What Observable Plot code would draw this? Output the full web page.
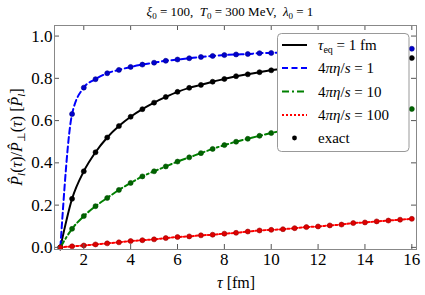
<!DOCTYPE html>
<html>
<head>
<meta charset="utf-8">
<script src="https://cdn.jsdelivr.net/npm/d3@7"></script>
<script src="https://cdn.jsdelivr.net/npm/@observablehq/plot@0.6"></script>
<style>
  html, body { margin: 0; padding: 0; background: #fff; }
  svg { display: block; }
  svg text { font-family: "Liberation Serif", "Times New Roman", serif !important; }
</style>
</head>
<body>
<div id="chart"></div>
<script>
const tau = [1, 1.5, 2, 2.5, 3, 3.5, 4, 4.5, 5, 5.5, 6, 6.5, 7, 7.5, 8, 8.5, 9, 9.5, 10,
             10.5, 11, 11.5, 12, 12.5, 13, 13.5, 14, 14.5, 15, 15.5, 16];
const tauEq1 = [0, 0.230, 0.360, 0.450, 0.520, 0.574, 0.618, 0.654, 0.685, 0.712, 0.736, 0.755, 0.769, 0.784, 0.797, 0.810, 0.819, 0.829, 0.838,
                0.845, 0.852, 0.858, 0.864, 0.869, 0.874, 0.879, 0.883, 0.887, 0.890, 0.893, 0.896];
const eta1 = [0, 0.631, 0.756, 0.796, 0.824, 0.840, 0.854, 0.865, 0.874, 0.883, 0.889, 0.895, 0.901, 0.906, 0.910, 0.913, 0.915, 0.919, 0.920,
              0.922, 0.924, 0.926, 0.928, 0.930, 0.931, 0.933, 0.934, 0.936, 0.937, 0.939, 0.940];
const eta10 = [0, 0.088, 0.148, 0.195, 0.234, 0.272, 0.305, 0.336, 0.360, 0.383, 0.406, 0.426, 0.446, 0.466, 0.484, 0.500, 0.514, 0.528, 0.541,
               0.553, 0.564, 0.575, 0.585, 0.595, 0.605, 0.614, 0.623, 0.631, 0.639, 0.647, 0.655];
const eta100 = [0, 0.005, 0.009, 0.014, 0.019, 0.024, 0.030, 0.034, 0.038, 0.044, 0.049, 0.052, 0.057, 0.060, 0.065, 0.069, 0.075, 0.080, 0.083,
                0.086, 0.091, 0.096, 0.099, 0.104, 0.108, 0.115, 0.118, 0.123, 0.127, 0.131, 0.135];
const xTicks = [2, 4, 6, 8, 10, 12, 14, 16];
const yTicks = [0, 0.2, 0.4, 0.6, 0.8, 1.0];

const seriesDefs = [
  {key: "tauEq", values: tauEq1, stroke: "#000000", dotFill: "#000000", dotStroke: "#000000", dash: null},
  {key: "eta1", values: eta1, stroke: "#0000ff", dotFill: "#0000cc", dotStroke: "#00008b", dash: "6,3.5"},
  {key: "eta10", values: eta10, stroke: "#008000", dotFill: "#006400", dotStroke: "#004d00", dash: "7,3,2,3"},
  {key: "eta100", values: eta100, stroke: "#ff0000", dotFill: "#dd0000", dotStroke: "#990000", dash: "2,2"}
];

const W = 425, H = 295, mL = 54, mR = 9, mT = 25, mB = 46;
const plotW = W - mL - mR, plotH = H - mT - mB, tk = 5;

const marks = [];
for (const s of seriesDefs) {
  const data = tau.map((t, i) => ({t, v: s.values[i]}));
  marks.push(Plot.line(data, {x: "t", y: "v", stroke: s.stroke, strokeWidth: 2, strokeDasharray: s.dash, curve: "monotone-x"}));
  marks.push(Plot.dot(data, {x: "t", y: "v", r: 2.5, fill: s.dotFill, stroke: s.dotStroke, strokeWidth: 0.6}));
}

const svg = Plot.plot({
  width: W,
  height: H,
  marginLeft: mL,
  marginRight: mR,
  marginTop: mT,
  marginBottom: mB,
  style: {color: "#000", background: "#fff"},
  x: {domain: [0.75, 16.2], axis: null},
  y: {domain: [-0.01, 1.05], axis: null},
  marks: [
    ...marks,
    Plot.tickX(xTicks, {x: d => d, insetTop: plotH - tk, stroke: "#555"}),
    Plot.tickX(xTicks, {x: d => d, insetBottom: plotH - tk, stroke: "#555"}),
    Plot.tickY(yTicks, {y: d => d, insetRight: plotW - tk, stroke: "#555"}),
    Plot.tickY(yTicks, {y: d => d, insetLeft: plotW - tk, stroke: "#555"}),
    Plot.text(xTicks, {x: d => d, text: d => String(d), frameAnchor: "bottom", lineAnchor: "top", dy: 3, fontSize: 17, fill: "#000"}),
    Plot.text(yTicks, {y: d => d, text: d => d.toFixed(1), frameAnchor: "left", textAnchor: "end", dx: -2, fontSize: 17, fill: "#000"}),
    Plot.frame({stroke: "#888"})
  ]
});

document.getElementById("chart").appendChild(svg);

const S = d3.select(svg);

// Title
const title = S.append("text").attr("x", 230).attr("y", 16).attr("text-anchor", "middle")
  .attr("font-size", 13).attr("fill", "#000");
title.append("tspan").attr("font-style", "italic").text("ξ");
title.append("tspan").attr("font-size", 9).attr("dy", 2.5).text("0");
title.append("tspan").attr("dy", -2.5).text(" = 100,  ");
title.append("tspan").attr("font-style", "italic").text("T");
title.append("tspan").attr("font-size", 9).attr("dy", 2.5).text("0");
title.append("tspan").attr("dy", -2.5).text(" = 300 MeV,  ");
title.append("tspan").attr("font-style", "italic").text("λ");
title.append("tspan").attr("font-size", 9).attr("dy", 2.5).text("0");
title.append("tspan").attr("dy", -2.5).text(" = 1");

// X label
const xl = S.append("text").attr("x", 236).attr("y", 288).attr("text-anchor", "middle")
  .attr("font-size", 16).attr("fill", "#000");
xl.append("tspan").attr("font-style", "italic").text("τ");
xl.append("tspan").text(" [fm]");

// Y label
const yl = S.append("text").attr("transform", "translate(22,137) rotate(-90)").attr("text-anchor", "middle")
  .attr("font-size", 16).attr("fill", "#000");
yl.append("tspan").attr("font-style", "italic").text("P\u0302");
yl.append("tspan").attr("font-style", "italic").attr("font-size", 11).attr("dy", 3).text("l");
yl.append("tspan").attr("dy", -3).text("(");
yl.append("tspan").attr("font-style", "italic").text("τ");
yl.append("tspan").text(")/");
yl.append("tspan").attr("font-style", "italic").text("P\u0302");
yl.append("tspan").attr("font-size", 11).attr("dy", 3).text("⊥");
yl.append("tspan").attr("dy", -3).text("(");
yl.append("tspan").attr("font-style", "italic").text("τ");
yl.append("tspan").text(") [");
yl.append("tspan").attr("font-style", "italic").text("P\u0302");
yl.append("tspan").attr("font-style", "italic").attr("font-size", 11).attr("dy", 3).text("l");
yl.append("tspan").attr("dy", -3).text("]");

// Legend
const lg = S.append("g");
lg.append("rect").attr("x", 277.5).attr("y", 33.5).attr("width", 131.5).attr("height", 118)
  .attr("rx", 4).attr("fill", "#fff").attr("stroke", "#999").attr("stroke-width", 1);
const ly = [45, 68, 91.5, 115, 138];
const sw = [
  {stroke: "#000000", dash: null},
  {stroke: "#0000ff", dash: "6,3.5"},
  {stroke: "#008000", dash: "7,3,2,3"},
  {stroke: "#ff0000", dash: "2,2"}
];
sw.forEach((s, i) => {
  lg.append("line").attr("x1", 282).attr("x2", 307).attr("y1", ly[i]).attr("y2", ly[i])
    .attr("stroke", s.stroke).attr("stroke-width", 2).attr("stroke-dasharray", s.dash);
});
lg.append("circle").attr("cx", 294.5).attr("cy", ly[4]).attr("r", 2.4).attr("fill", "#000");
function lt(i) {
  return lg.append("text").attr("x", 318).attr("y", ly[i] + 5).attr("text-anchor", "start")
    .attr("font-size", 15).attr("fill", "#000");
}
let t0 = lt(0);
t0.append("tspan").attr("font-style", "italic").text("τ");
t0.append("tspan").attr("font-size", 10).attr("dy", 3).text("eq");
t0.append("tspan").attr("dy", -3).text(" = 1 fm");
["1", "10", "100"].forEach((v, k) => {
  const t = lt(k + 1);
  t.append("tspan").text("4");
  t.append("tspan").attr("font-style", "italic").text("πη");
  t.append("tspan").text("/");
  t.append("tspan").attr("font-style", "italic").text("s");
  t.append("tspan").text(" = " + v);
});
lt(4).text("exact");
</script>
</body>
</html>
